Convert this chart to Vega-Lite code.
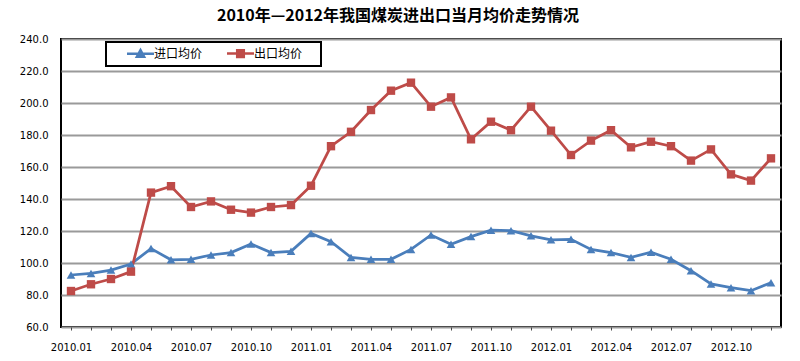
{
  "$schema": "https://vega.github.io/schema/vega-lite/v6.json",
  "width": 720,
  "height": 288,
  "autosize": {"type": "none"},
  "padding": {"left": 61, "top": 39, "right": 19, "bottom": 34},
  "background": "white",
  "title": {
    "text": "2010年—2012年我国煤炭进出口当月均价走势情况",
    "font": "Noto Sans CJK SC",
    "fontSize": 16,
    "fontWeight": "bold",
    "color": "black",
    "anchor": "middle",
    "frame": "group",
    "dx": -23,
    "offset": 10
  },
  "config": {
    "view": {"stroke": "black", "strokeWidth": 2},
    "axis": {"labelFont": "DejaVu Sans", "labelFontSize": 10, "labelColor": "black", "domain": false, "title": null}
  },
  "data": {
    "values": [
      {"m": "2010.01", "s": "进口均价", "v": 92.5},
      {"m": "2010.02", "s": "进口均价", "v": 93.5},
      {"m": "2010.03", "s": "进口均价", "v": 95.6},
      {"m": "2010.04", "s": "进口均价", "v": 99.4},
      {"m": "2010.05", "s": "进口均价", "v": 109},
      {"m": "2010.06", "s": "进口均价", "v": 102},
      {"m": "2010.07", "s": "进口均价", "v": 102.3},
      {"m": "2010.08", "s": "进口均价", "v": 105},
      {"m": "2010.09", "s": "进口均价", "v": 106.5},
      {"m": "2010.10", "s": "进口均价", "v": 111.9},
      {"m": "2010.11", "s": "进口均价", "v": 106.5},
      {"m": "2010.12", "s": "进口均价", "v": 107.3},
      {"m": "2011.01", "s": "进口均价", "v": 118.5},
      {"m": "2011.02", "s": "进口均价", "v": 113.3},
      {"m": "2011.03", "s": "进口均价", "v": 103.5},
      {"m": "2011.04", "s": "进口均价", "v": 102.3},
      {"m": "2011.05", "s": "进口均价", "v": 102.3},
      {"m": "2011.06", "s": "进口均价", "v": 108.5},
      {"m": "2011.07", "s": "进口均价", "v": 117.5},
      {"m": "2011.08", "s": "进口均价", "v": 111.7},
      {"m": "2011.09", "s": "进口均价", "v": 116.5},
      {"m": "2011.10", "s": "进口均价", "v": 120.5},
      {"m": "2011.11", "s": "进口均价", "v": 120.2},
      {"m": "2011.12", "s": "进口均价", "v": 117},
      {"m": "2012.01", "s": "进口均价", "v": 114.5},
      {"m": "2012.02", "s": "进口均价", "v": 114.8},
      {"m": "2012.03", "s": "进口均价", "v": 108.5},
      {"m": "2012.04", "s": "进口均价", "v": 106.5},
      {"m": "2012.05", "s": "进口均价", "v": 103.5},
      {"m": "2012.06", "s": "进口均价", "v": 106.7},
      {"m": "2012.07", "s": "进口均价", "v": 102.3},
      {"m": "2012.08", "s": "进口均价", "v": 95.2},
      {"m": "2012.09", "s": "进口均价", "v": 86.9},
      {"m": "2012.10", "s": "进口均价", "v": 84.6},
      {"m": "2012.11", "s": "进口均价", "v": 82.7},
      {"m": "2012.12", "s": "进口均价", "v": 87.7},
      {"m": "2010.01", "s": "出口均价", "v": 82.5},
      {"m": "2010.02", "s": "出口均价", "v": 86.7},
      {"m": "2010.03", "s": "出口均价", "v": 90},
      {"m": "2010.04", "s": "出口均价", "v": 94.6},
      {"m": "2010.05", "s": "出口均价", "v": 144},
      {"m": "2010.06", "s": "出口均价", "v": 148},
      {"m": "2010.07", "s": "出口均价", "v": 135},
      {"m": "2010.08", "s": "出口均价", "v": 138.5},
      {"m": "2010.09", "s": "出口均价", "v": 133.3},
      {"m": "2010.10", "s": "出口均价", "v": 131.5},
      {"m": "2010.11", "s": "出口均价", "v": 135},
      {"m": "2010.12", "s": "出口均价", "v": 136.2},
      {"m": "2011.01", "s": "出口均价", "v": 148.3},
      {"m": "2011.02", "s": "出口均价", "v": 173},
      {"m": "2011.03", "s": "出口均价", "v": 182},
      {"m": "2011.04", "s": "出口均价", "v": 195.6},
      {"m": "2011.05", "s": "出口均价", "v": 207.7},
      {"m": "2011.06", "s": "出口均价", "v": 212.7},
      {"m": "2011.07", "s": "出口均价", "v": 197.7},
      {"m": "2011.08", "s": "出口均价", "v": 203.5},
      {"m": "2011.09", "s": "出口均价", "v": 177.3},
      {"m": "2011.10", "s": "出口均价", "v": 188.3},
      {"m": "2011.11", "s": "出口均价", "v": 183},
      {"m": "2011.12", "s": "出口均价", "v": 197.7},
      {"m": "2012.01", "s": "出口均价", "v": 182.7},
      {"m": "2012.02", "s": "出口均价", "v": 167.5},
      {"m": "2012.03", "s": "出口均价", "v": 176.5},
      {"m": "2012.04", "s": "出口均价", "v": 183},
      {"m": "2012.05", "s": "出口均价", "v": 172.3},
      {"m": "2012.06", "s": "出口均价", "v": 175.8},
      {"m": "2012.07", "s": "出口均价", "v": 173},
      {"m": "2012.08", "s": "出口均价", "v": 164},
      {"m": "2012.09", "s": "出口均价", "v": 171},
      {"m": "2012.10", "s": "出口均价", "v": 155.4},
      {"m": "2012.11", "s": "出口均价", "v": 151.5},
      {"m": "2012.12", "s": "出口均价", "v": 165.4}
    ]
  },
  "encoding": {
    "x": {
      "field": "m",
      "type": "ordinal",
      "sort": null,
      "scale": {"type": "point", "padding": 0.5},
      "axis": {
        "labelAngle": 0,
        "labelExpr": "indexof(['01','04','07','10'], substring(datum.value, 5, 7)) >= 0 ? datum.value : ''",
        "labelPadding": 12,
        "ticks": true,
        "tickSize": 3,
        "tickColor": "#444",
        "grid": false
      }
    },
    "y": {
      "field": "v",
      "type": "quantitative",
      "scale": {"domain": [60, 240], "nice": false, "zero": false},
      "axis": {
        "values": [60, 80, 100, 120, 140, 160, 180, 200, 220, 240],
        "format": ".1f",
        "ticks": false,
        "labelPadding": 13,
        "grid": true,
        "gridColor": "#9a9a9a",
        "gridWidth": 2
      }
    }
  },
  "layer": [
    {
      "mark": {"type": "line", "strokeWidth": 2.75},
      "encoding": {
        "color": {
          "field": "s",
          "type": "nominal",
          "scale": {"domain": ["进口均价", "出口均价"], "range": ["#4a7ebb", "#be4b48"]},
          "legend": {
            "orient": "none",
            "legendX": 45,
            "legendY": 3,
            "direction": "horizontal",
            "title": "口",
            "titleOrient": "right",
            "titleOpacity": 0,
            "titleFont": "Noto Sans CJK SC",
            "titleFontSize": 12,
            "titlePadding": 2,
            "fillColor": "white",
            "strokeColor": "black",
            "padding": 4,
            "labelFont": "Noto Sans CJK SC",
            "labelFontSize": 12,
            "labelColor": "black",
            "symbolSize": 144,
            "symbolOffset": 23,
            "labelOffset": 6,
            "columnPadding": 7,
            "symbolStrokeWidth": 2.5,
            "encode": {
              "legend": {"update": {"strokeWidth": {"value": 2}}},
              "symbols": {
                "update": {
                  "shape": {"signal": "datum.value === '进口均价' ? 'M-2.25,0H2.25M0,-0.6L0.6,0.5L-0.6,0.5Z' : 'M-2.25,0H2.25M-0.55,-0.55H0.55V0.55H-0.55Z'"},
                  "fill": {"signal": "datum.value === '进口均价' ? '#4a7ebb' : '#be4b48'"},
                  "stroke": {"signal": "datum.value === '进口均价' ? '#4a7ebb' : '#be4b48'"},
                  "opacity": {"value": 1},
                  "fillOpacity": {"value": 1}
                }
              }
            }
          }
        }
      }
    },
    {
      "transform": [{"filter": "datum.s === '进口均价'"}],
      "mark": {"type": "point", "filled": true, "opacity": 1, "shape": "triangle-up", "color": "#4a7ebb", "size": 75}
    },
    {
      "transform": [{"filter": "datum.s === '出口均价'"}],
      "mark": {"type": "point", "filled": true, "opacity": 1, "shape": "square", "color": "#be4b48", "size": 70}
    }
  ]
}
